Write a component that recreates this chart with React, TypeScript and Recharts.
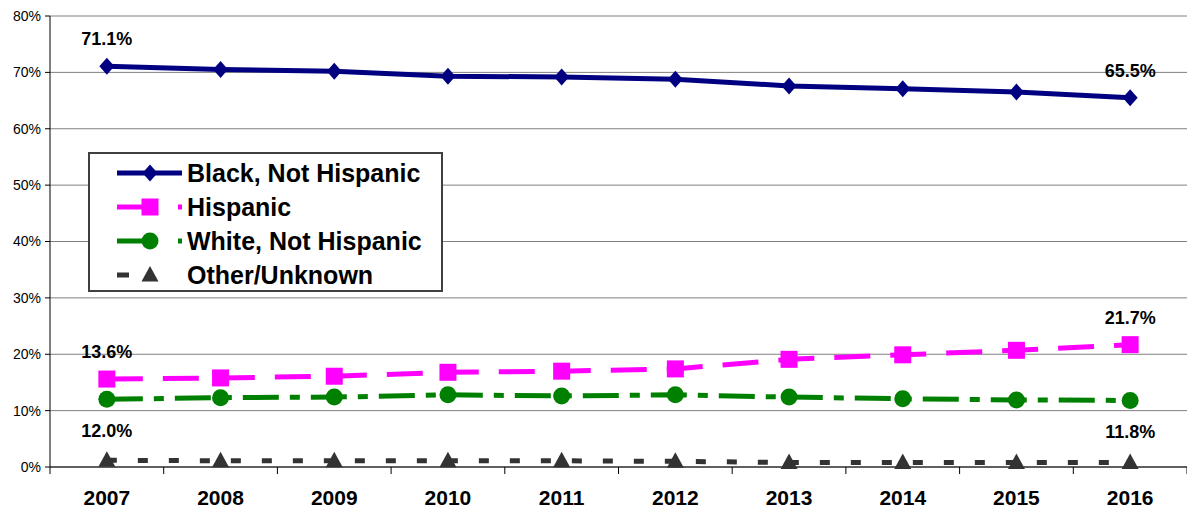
import React from "react";
import { LineChart, Line, XAxis, YAxis, CartesianGrid, LabelList } from "recharts";

const years = ["2007", "2008", "2009", "2010", "2011", "2012", "2013", "2014", "2015", "2016"];
const black = [71.1, 70.5, 70.2, 69.3, 69.2, 68.8, 67.6, 67.1, 66.5, 65.5];
const hispanic = [15.6, 15.8, 16.1, 16.8, 17.0, 17.4, 19.1, 19.9, 20.7, 21.7];
const white = [12.0, 12.3, 12.4, 12.8, 12.6, 12.8, 12.4, 12.1, 11.9, 11.8];
const other = [1.2, 1.1, 1.1, 1.1, 1.1, 1.0, 0.8, 0.8, 0.8, 0.8];
const yTicks = [0, 10, 20, 30, 40, 50, 60, 70, 80];

// end-point callouts as printed on the chart
const blackLabels = ["71.1%", "65.5%"];
const hispanicLabels = ["13.6%", "21.7%"];
const whiteLabels = ["12.0%", "11.8%"];

const FONT = "'Liberation Sans', Arial, sans-serif";

const data = years.map((year, i) => ({
  year,
  black: black[i],
  hispanic: hispanic[i],
  white: white[i],
  other: other[i],
}));

type Shape = "diamond" | "square" | "circle" | "triangle";

const series: {
  key: string;
  name: string;
  color: string;
  dash?: string;
  legendDash?: string;
  shape: Shape;
  labels?: string[];
  labelDy: number;
}[] = [
  { key: "black", name: "Black, Not Hispanic", color: "#000080", shape: "diamond", labels: blackLabels, labelDy: -27 },
  { key: "hispanic", name: "Hispanic", color: "#FF00FF", dash: "36 20", legendDash: "36 25 4 10", shape: "square", labels: hispanicLabels, labelDy: -27 },
  { key: "white", name: "White, Not Hispanic", color: "#008000", dash: "36 11 10 11", legendDash: "36 25 4 10", shape: "circle", labels: whiteLabels, labelDy: 32 },
  { key: "other", name: "Other/Unknown", color: "#333333", dash: "10 21", legendDash: "12 60", shape: "triangle", labelDy: 0 },
];

function Marker({ cx, cy, shape, color }: { cx: number; cy: number; shape: Shape; color: string }) {
  if (cx == null || cy == null) return null;
  if (shape === "diamond")
    return <polygon points={`${cx},${cy - 8.5} ${cx + 7.5},${cy} ${cx},${cy + 8.5} ${cx - 7.5},${cy}`} fill={color} />;
  if (shape === "square") return <rect x={cx - 8.5} y={cy - 8.5} width={17} height={17} fill={color} />;
  if (shape === "circle") return <circle cx={cx} cy={cy} r={8.5} fill={color} />;
  return <polygon points={`${cx},${cy - 9} ${cx + 8.5},${cy + 6.5} ${cx - 8.5},${cy + 6.5}`} fill={color} />;
}

function YearTick(props: any) {
  const { x, y, payload } = props;
  const half = payload?.offset || 56.85;
  const isLast = payload?.index === years.length - 1;
  return (
    <g>
      <line x1={x - half} y1={y} x2={x - half} y2={y + 7} stroke="#000" />
      {isLast && <line x1={x + half} y1={y} x2={x + half} y2={y + 7} stroke="#000" />}
      <text x={x} y={y + 30} textAnchor="middle" dominantBaseline="central" fontFamily={FONT} fontWeight="bold" fontSize={21} fill="#000">
        {payload.value}
      </text>
    </g>
  );
}

function LegendBox() {
  return (
    <div
      style={{
        position: "absolute",
        left: 88,
        top: 152,
        width: 351,
        height: 136,
        border: "2px solid #404040",
        background: "#fff",
        fontFamily: FONT,
      }}
    >
      {series.map((s, i) => (
        <div key={s.key} style={{ display: "flex", alignItems: "center", height: 34, marginTop: i === 0 ? 2 : 0 }}>
          <svg width={97} height={24} style={{ flex: "none" }}>
            <line x1={27} y1={12} x2={92} y2={12} stroke={s.color} strokeWidth={5} strokeDasharray={s.legendDash} />
            <Marker cx={60} cy={12} shape={s.shape} color={s.color} />
          </svg>
          <span style={{ fontSize: 25, fontWeight: "bold", color: "#000", whiteSpace: "nowrap" }}>{s.name}</span>
        </div>
      ))}
    </div>
  );
}

export default function App() {
  return (
    <div style={{ position: "absolute", left: 0, top: 0, width: 1187, height: 513, background: "#fff" }}>
      <LineChart width={1187} height={513} data={data} margin={{ top: 16, right: 0, left: 0, bottom: 0 }}>
        <CartesianGrid vertical={false} stroke="#808080" />
        <XAxis
          dataKey="year"
          scale="band"
          axisLine={{ stroke: "#000" }}
          tickLine={false}
          tickSize={0}
          tickMargin={0}
          tick={<YearTick />}
          height={46}
          interval={0}
        />
        <YAxis
          domain={[0, 80]}
          ticks={yTicks}
          width={50}
          tickFormatter={(v) => `${v}%`}
          axisLine={{ stroke: "#000" }}
          tickLine={{ stroke: "#000" }}
          tickSize={5}
          tickMargin={4}
          tick={{ fill: "#000", fontSize: 14, fontFamily: FONT }}
        />
        {series.map((s) => (
          <Line
            key={s.key}
            dataKey={s.key}
            name={s.name}
            stroke={s.color}
            strokeWidth={5}
            strokeDasharray={s.dash}
            isAnimationActive={false}
            dot={(p: any) => <Marker key={`${s.key}-${p.index}`} cx={p.cx} cy={p.cy} shape={s.shape} color={s.color} />}
            activeDot={false}
          >
            {s.labels && (
              <LabelList
                dataKey={s.key}
                content={(p: any) => {
                  const idx = p.index;
                  if (idx !== 0 && idx !== years.length - 1) return null;
                  const text = s.labels![idx === 0 ? 0 : 1];
                  return (
                    <text
                      x={p.x}
                      y={p.y + s.labelDy}
                      textAnchor="middle"
                      dominantBaseline="central"
                      fontFamily={FONT}
                      fontWeight="bold"
                      fontSize={18}
                      fill="#000"
                    >
                      {text}
                    </text>
                  );
                }}
              />
            )}
          </Line>
        ))}
      </LineChart>
      <LegendBox />
    </div>
  );
}
